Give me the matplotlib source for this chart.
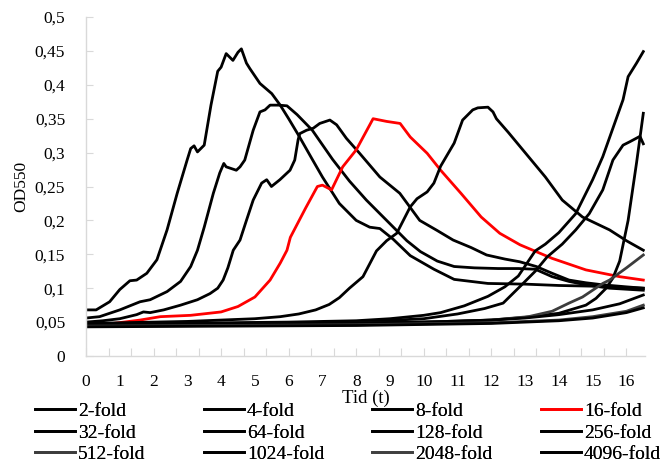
import matplotlib
matplotlib.use("Agg")
import matplotlib.pyplot as plt

plt.rcParams["font.family"] = ["Liberation Serif", "DejaVu Serif"]

# --- data (time in hours, OD550) ---
labels = ["2-fold", "4-fold", "8-fold", "16-fold",
          "32-fold", "64-fold", "128-fold", "256-fold",
          "512-fold", "1024-fold", "2048-fold", "4096-fold"]
colors = ["black", "black", "black", "red",
          "black", "black", "black", "black",
          "#3c3c3c", "black", "#404040", "black"]

t_2 = [0, 0.3, 0.7, 1.0, 1.3, 1.5, 1.8, 2.1, 2.4, 2.7, 3.0, 3.1, 3.2, 3.3, 3.5,
       3.7, 3.9, 4.0, 4.15, 4.35, 4.5, 4.6, 4.75, 4.85, 5.15, 5.5, 5.75, 6.0, 6.3,
       6.7, 7.0, 7.5, 8.0, 8.4, 8.7, 9.1, 9.6, 10.3, 10.9, 11.9, 13, 14, 15, 16, 16.5]
v_2 = [0.068, 0.068, 0.08, 0.098, 0.111, 0.112, 0.122, 0.142, 0.186, 0.24, 0.29,
       0.306, 0.31, 0.301, 0.311, 0.37, 0.42, 0.426, 0.446, 0.436, 0.448, 0.453,
       0.432, 0.424, 0.402, 0.387, 0.37, 0.35, 0.325, 0.29, 0.264, 0.225, 0.2,
       0.19, 0.188, 0.172, 0.148, 0.128, 0.113, 0.107, 0.106, 0.104, 0.103, 0.101, 0.1]

t_4 = [0, 0.4, 1.0, 1.3, 1.6, 1.9, 2.4, 2.8, 3.1, 3.3, 3.5, 3.77, 3.96, 4.08, 4.15,
       4.45, 4.56, 4.7, 4.95, 5.15, 5.3, 5.45, 5.7, 5.95, 6.25, 6.7, 7.3, 7.8, 8.3,
       8.7, 9.1, 9.5, 9.9, 10.4, 10.9, 11.5, 12.2, 12.8, 13.3, 13.8, 14.3, 14.8,
       15.5, 16.5]
v_4 = [0.056, 0.058, 0.068, 0.074, 0.08, 0.083, 0.095, 0.11, 0.132, 0.156, 0.19,
       0.24, 0.27, 0.284, 0.279, 0.274, 0.279, 0.289, 0.333, 0.36, 0.363, 0.37,
       0.37, 0.369, 0.356, 0.333, 0.29, 0.258, 0.23, 0.21, 0.19, 0.17, 0.154,
       0.14, 0.132, 0.13, 0.129, 0.129, 0.128, 0.117, 0.11, 0.105, 0.1, 0.097]

t_8 = [0, 0.5, 1.0, 1.5, 1.7, 1.9, 2.3, 2.8, 3.3, 3.67, 3.9, 4.06, 4.2, 4.36, 4.56,
       4.75, 4.95, 5.2, 5.35, 5.49, 5.74, 6.04, 6.18, 6.28, 6.33, 6.53, 6.73, 6.92,
       7.1, 7.22, 7.42, 7.71, 8.1, 8.7, 9.29, 9.88, 10.4, 10.87, 11.4, 11.86, 12.4,
       12.84, 13.33, 13.8, 14.3, 14.8, 15.3, 16, 16.5]
v_8 = [0.05, 0.052, 0.055, 0.061, 0.065, 0.064, 0.068, 0.075, 0.083, 0.092, 0.1,
       0.112, 0.13, 0.156, 0.171, 0.2, 0.23, 0.255, 0.26, 0.25, 0.26, 0.274, 0.289,
       0.319, 0.328, 0.333, 0.336, 0.343, 0.346, 0.348, 0.341, 0.321, 0.299, 0.264,
       0.24, 0.2, 0.185, 0.171, 0.16, 0.149, 0.143, 0.139, 0.132, 0.122, 0.112,
       0.108, 0.105, 0.102, 0.1]

t_16 = [0, 0.8, 1.6, 2.2, 3.1, 4.0, 4.5, 5.0, 5.45, 5.75, 5.95, 6.05, 6.5, 6.85,
        7.0, 7.27, 7.6, 8.0, 8.5, 8.9, 9.3, 9.6, 10.1, 10.5, 11.1, 11.7, 12.25,
        12.85, 13.8, 14.8, 15.8, 16.5]
v_16 = [0.046, 0.048, 0.053, 0.058, 0.06, 0.065, 0.073, 0.087, 0.112, 0.137, 0.156,
        0.175, 0.218, 0.25, 0.252, 0.245, 0.279, 0.304, 0.35, 0.346, 0.343, 0.323,
        0.299, 0.274, 0.24, 0.205, 0.181, 0.164, 0.144, 0.127, 0.117, 0.112]

t_32 = [0, 1, 2, 3, 4, 5, 5.75, 6.3, 6.8, 7.2, 7.5, 7.8, 8.2, 8.6, 8.9, 9.2, 9.6,
        9.8, 10.1, 10.3, 10.5, 10.9, 11.15, 11.45, 11.6, 11.9, 12.05, 12.15, 12.5,
        13.1, 13.6, 14.1, 14.7, 15.5, 16.0, 16.5]
v_32 = [0.048, 0.049, 0.05, 0.051, 0.053, 0.055, 0.058, 0.062, 0.068, 0.076, 0.086,
        0.1, 0.117, 0.155, 0.17, 0.181, 0.22, 0.232, 0.242, 0.255, 0.28, 0.314,
        0.348, 0.363, 0.366, 0.367, 0.36, 0.35, 0.33, 0.294, 0.264, 0.23, 0.205,
        0.186, 0.17, 0.156]

t_64 = [0, 2, 4, 6, 8, 9, 10, 10.5, 11.2, 11.9, 12.4, 12.8, 13.3, 13.6, 14.0, 14.5,
        14.8, 15.0, 15.3, 15.6, 15.9, 16.05, 16.3, 16.5]
v_64 = [0.047, 0.048, 0.049, 0.05, 0.052, 0.055, 0.06, 0.064, 0.074, 0.088, 0.102,
        0.118, 0.155, 0.165, 0.182, 0.21, 0.24, 0.26, 0.294, 0.336, 0.378, 0.412,
        0.432, 0.449]

t_128 = [0, 2, 4, 6, 8, 10, 11, 11.8, 12.35, 12.9, 13.3, 13.65, 14.1, 14.5, 14.9,
         15.3, 15.6, 15.9, 16.1, 16.4, 16.5]
v_128 = [0.046, 0.047, 0.048, 0.049, 0.05, 0.055, 0.062, 0.07, 0.078, 0.105, 0.125,
         0.146, 0.165, 0.186, 0.21, 0.245, 0.289, 0.311, 0.316, 0.324, 0.313]

t_256 = [0, 2, 4, 6, 8, 10, 12, 13, 14, 14.8, 15.1, 15.4, 15.6, 15.8, 16.05, 16.3, 16.5]
v_256 = [0.045, 0.046, 0.047, 0.048, 0.049, 0.05, 0.053, 0.057, 0.063, 0.075, 0.085,
         0.1, 0.115, 0.14, 0.2, 0.285, 0.358]

t_512 = [0, 3, 6, 9, 11, 12, 13.1, 13.8, 14.3, 14.7, 15.3, 15.5, 16, 16.5]
v_512 = [0.045, 0.046, 0.047, 0.049, 0.051, 0.053, 0.058, 0.066, 0.078, 0.087,
         0.107, 0.112, 0.13, 0.149]

t_1024 = [0, 2, 4, 6, 8, 10, 12, 13, 14, 15, 15.8, 16.5]
v_1024 = [0.046, 0.047, 0.047, 0.048, 0.049, 0.05, 0.053, 0.056, 0.061, 0.068,
          0.077, 0.09]

t_2048 = [0, 4, 8, 12, 14, 15, 16, 16.5]
v_2048 = [0.044, 0.045, 0.046, 0.049, 0.053, 0.058, 0.066, 0.075]

t_4096 = [0, 4, 8, 12, 14, 15, 16, 16.5]
v_4096 = [0.043, 0.044, 0.045, 0.048, 0.052, 0.056, 0.064, 0.071]

series = [(t_2, v_2), (t_4, v_4), (t_8, v_8), (t_16, v_16),
          (t_32, v_32), (t_64, v_64), (t_128, v_128), (t_256, v_256),
          (t_512, v_512), (t_1024, v_1024), (t_2048, v_2048), (t_4096, v_4096)]

fig = plt.figure(figsize=(6.64, 4.68), dpi=100)
ax = fig.add_axes([86 / 664, 1 - 356 / 468, 559 / 664, 339 / 468])

lines = []
for (t, v), lab, col in zip(series, labels, colors):
    ln, = ax.plot(t, v, color=col, lw=2, label=lab, solid_joinstyle="round")
    lines.append(ln)

ax.set_xlim(0, 16.55)
ax.set_ylim(0, 0.5)

grey = "#d9d9d9"
for side in ["top", "right"]:
    ax.spines[side].set_visible(False)
for side in ["left", "bottom"]:
    ax.spines[side].set_color(grey)
    ax.spines[side].set_linewidth(1)

# tick marks every 2/3 h, labels on the whole hours (Excel category axis)
ax.xaxis.remove_overlapping_locs = False
ax.set_xticks([k * 2 / 3 for k in range(25)])
ax.set_xticklabels([])
ax.tick_params(axis="x", which="major", direction="in", length=6, color=grey)
ax.set_xticks(range(17), minor=True)
ax.set_xticklabels([str(i) for i in range(17)], minor=True)
ax.tick_params(axis="x", which="minor", length=0, pad=13, labelsize=12.5)

yt = [i * 0.05 for i in range(11)]
ax.set_yticks(yt)
ax.set_yticklabels(["0"] + [f"{y:g}".replace(".", ",") for y in yt[1:]])
ax.tick_params(axis="y", direction="in", length=5, color=grey, labelsize=12.5, pad=15)

ax.set_ylabel("OD550", fontsize=12.5, labelpad=4)
ax.set_xlabel("Tid (t)", fontsize=13.5, labelpad=0)

# legend: 4 columns, 3 rows
col_x = [35, 204, 372, 541]
for c in range(4):
    hs = [lines[c + 4 * r] for r in range(3)]
    leg = fig.legend(hs, [h.get_label() for h in hs], loc="upper left",
                     bbox_to_anchor=(col_x[c] / 664, 1 - 402.5 / 468),
                     frameon=False, fontsize=14, handlelength=2.05,
                     handletextpad=0.15, labelspacing=0.2, borderpad=0,
                     borderaxespad=0)
    fig.add_artist(leg)

fig.savefig("out.png", dpi=100)
